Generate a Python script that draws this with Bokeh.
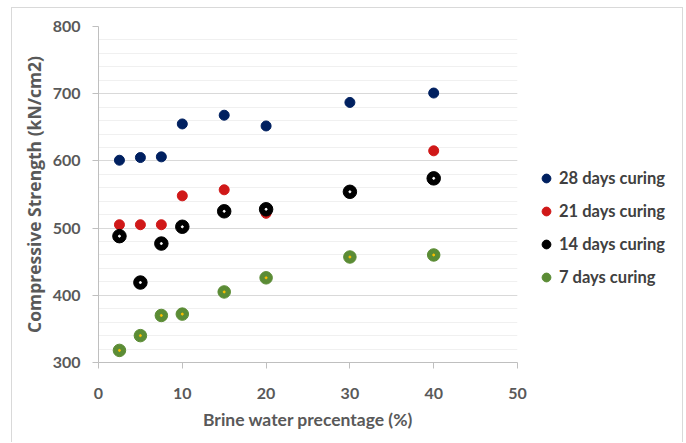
from bokeh.plotting import figure
from bokeh.layouts import row
from bokeh.models import Legend, LegendItem, SingleIntervalTicker, Range1d
from bokeh.embed import file_html
from bokeh.resources import INLINE

brine = [2.5, 5, 7.5, 10, 15, 20, 30, 40]
days28 = [601, 605, 606, 655, 668, 652, 687, 701]
days21 = [505, 505, 505, 548, 557, 522, 553, 615]
days14 = [488, 419, 477, 502, 525, 528, 554, 574]
days7 = [318, 340, 370, 372, 405, 426, 457, 460]
labels = ["28 days curing", "21 days curing", "14 days curing", "7 days curing"]
colors = ["#002060", "#d01818", "#000000", "#5b8c35"]
sizes = [10, 10, 13.5, 12.5]

FONT = "Lato"
GRAY = "#595959"
H = 434

p = figure(width=517, height=H, output_backend="svg", toolbar_location=None,
           x_range=Range1d(0, 50), y_range=Range1d(300, 800),
           min_border_left=86, min_border_right=12, min_border_top=18, min_border_bottom=80)
p.outline_line_color = None

p.xaxis.ticker = SingleIntervalTicker(interval=10, num_minor_ticks=0)
p.yaxis.ticker = SingleIntervalTicker(interval=100, num_minor_ticks=5)
for ax in (p.xaxis[0], p.yaxis[0]):
    ax.axis_line_color = "#bfbfbf"
    ax.major_tick_line_color = "#bfbfbf"
    ax.major_tick_in = 0
    ax.major_tick_out = 6
    ax.minor_tick_line_color = None
    ax.major_label_text_font = FONT
    ax.major_label_text_font_style = "bold"
    ax.major_label_text_font_size = "16px"
    ax.major_label_text_color = GRAY
    ax.axis_label_text_color = GRAY
p.xaxis.major_label_standoff = 19
p.yaxis.major_label_standoff = 12
p.xaxis.axis_label = "Brine water precentage (%)"
p.xaxis.axis_label_text_font = FONT
p.xaxis.axis_label_text_font_style = "bold"
p.xaxis.axis_label_text_font_size = "17.5px"
p.xaxis.axis_label_standoff = 7
p.yaxis.axis_label = "Compressive Strength (kN/cm2)"
p.yaxis.axis_label_text_font = "Open Sans"
p.yaxis.axis_label_text_font_style = "bold"
p.yaxis.axis_label_text_font_size = "17.5px"
p.yaxis.axis_label_standoff = 4

p.xgrid.grid_line_color = None
p.ygrid.grid_line_color = "#d9d9d9"
p.ygrid.minor_grid_line_color = "#f0f0f0"

series = [days28, days21, days14, days7]
for vals, c, s in zip(series, colors, sizes):
    p.scatter(brine, vals, size=s, color=c)
p.scatter(brine, days14, size=2, color="#ffffff")
p.scatter(brine, days7, size=2, color="#ffc000")

# legend panel (its own small canvas to the right of the plot)
lg = figure(width=670 - 517, height=H, output_backend="svg", toolbar_location=None,
            x_range=Range1d(0, 1), y_range=Range1d(0, 1),
            min_border_left=0, min_border_right=0, min_border_top=0, min_border_bottom=0)
lg.axis.visible = False
lg.grid.grid_line_color = None
lg.outline_line_color = None
items = []
for lab, c in zip(labels, colors):
    r = lg.scatter(x=[-5], y=[-5], size=10, color=c)
    items.append(LegendItem(label=lab, renderers=[r]))
legend = Legend(items=items, location=(6, 74))
legend.glyph_width = 22
legend.glyph_height = 22
legend.label_height = 22
legend.spacing = 11
legend.padding = 0
legend.margin = 0
legend.label_standoff = 2
legend.border_line_color = None
legend.background_fill_alpha = 0
legend.label_text_font = FONT
legend.label_text_font_style = "bold"
legend.label_text_font_size = "16.5px"
legend.label_text_color = "#404040"
lg.add_layout(legend, "center")

layout = row(p, lg)
layout.margin = (7, 0, 0, 11)
layout.styles = {"border-left": "1px solid #d9d9d9", "border-top": "1px solid #d9d9d9",
                 "border-right": "1px solid #d9d9d9"}

open("out.html", "w").write(file_html(layout, INLINE))
